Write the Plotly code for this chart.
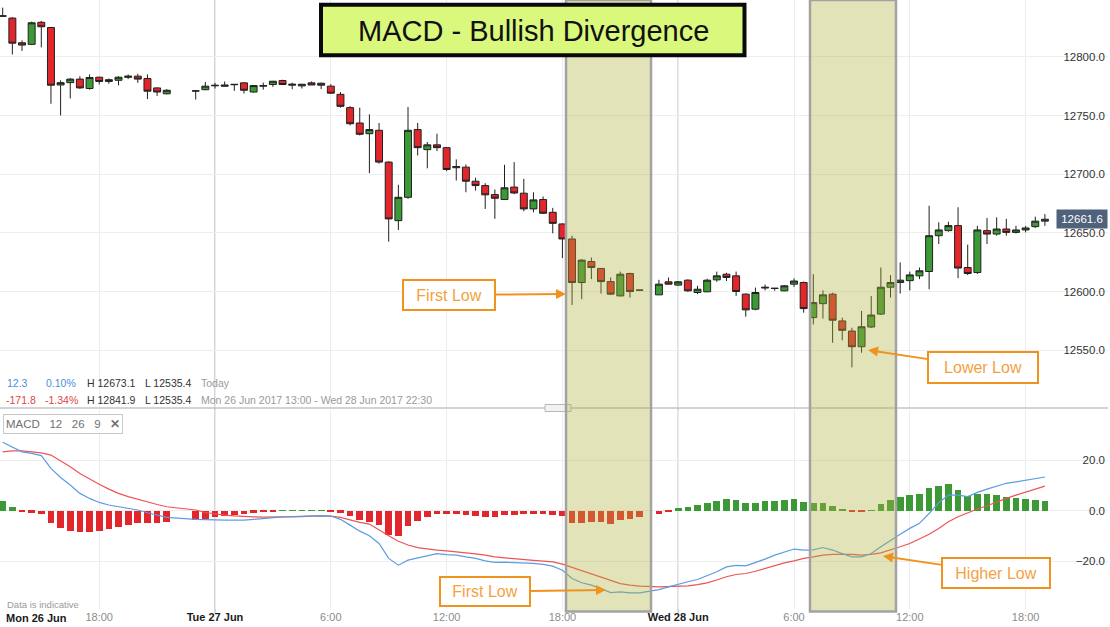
import pandas as pd
import plotly.graph_objs as go

# 30 minute candles, Mon 26 Jun 2017 13:00 -> Wed 28 Jun 2017 19:00 (a few bars missing overnight)
missing = ["2017-06-26 22:00", "2017-06-26 22:30", "2017-06-27 22:30"]
times = pd.date_range("2017-06-26 13:00", "2017-06-28 19:00", freq="30min")
times = times[~times.isin(pd.to_datetime(missing))]

open_ = [12835.0, 12833.0, 12812.0, 12810.6, 12829.4, 12825.0, 12776.0, 12778.0, 12781.0, 12773.0,
         12782.6, 12779.0, 12780.0, 12782.5, 12783.5, 12781.5, 12773.5, 12768.5, 12770.8, 12772.0,
         12775.3, 12776.0, 12776.6, 12777.8, 12770.0, 12775.0, 12776.4, 12779.8, 12775.8, 12775.2,
         12777.8, 12777.5, 12775.0, 12768.0, 12756.7, 12743.6, 12734.5, 12737.4, 12710.3, 12660.4,
         12680.3, 12738.0, 12720.9, 12725.0, 12722.6, 12705.5, 12706.0, 12694.0, 12690.3, 12682.6,
         12678.4, 12689.0, 12683.8, 12670.4, 12678.4, 12667.5, 12657.6, 12644.8, 12607.7, 12625.6,
         12619.7, 12608.5, 12596.3, 12615.4, 12601.2, 12597.2, 12608.3, 12605.5, 12609.7, 12599.2,
         12599.8, 12610.0, 12614.8, 12613.4, 12597.8, 12585.0, 12603.0, 12602.6, 12600.6, 12606.3,
         12607.7, 12577.8, 12589.7, 12597.8, 12575.0, 12566.4, 12553.0, 12569.8, 12580.8, 12603.7,
         12607.7, 12609.3, 12613.4, 12617.1, 12647.6, 12651.9, 12656.2, 12620.5, 12616.2, 12651.9,
         12649.0, 12653.3, 12650.4, 12652.5, 12655.3, 12660.0]
high = [12841.9, 12833.7, 12814.0, 12830.0, 12830.5, 12825.5, 12780.0, 12782.0, 12783.5, 12785.0,
        12783.0, 12781.5, 12783.5, 12785.0, 12785.5, 12785.0, 12774.0, 12772.5, 12771.5, 12778.6,
        12777.8, 12779.0, 12776.8, 12778.5, 12776.0, 12778.0, 12779.5, 12780.5, 12778.0, 12777.0,
        12779.0, 12778.0, 12776.7, 12770.0, 12758.0, 12756.7, 12751.0, 12743.6, 12711.0, 12691.0,
        12757.3, 12743.6, 12727.4, 12734.5, 12723.0, 12712.6, 12708.3, 12697.0, 12692.3, 12687.0,
        12708.0, 12710.3, 12696.0, 12684.6, 12681.0, 12671.3, 12658.0, 12647.6, 12627.5, 12629.0,
        12620.0, 12612.0, 12617.0, 12616.0, 12601.2, 12610.0, 12612.0, 12609.0, 12610.5, 12604.9,
        12611.0, 12617.0, 12616.0, 12617.0, 12598.5, 12603.4, 12606.0, 12602.8, 12605.5, 12611.2,
        12608.5, 12614.8, 12601.0, 12599.0, 12577.8, 12569.2, 12583.5, 12596.3, 12620.5, 12614.0,
        12624.8, 12617.0, 12620.5, 12673.1, 12659.0, 12659.5, 12671.8, 12640.0, 12656.0, 12662.7,
        12663.2, 12661.9, 12656.0, 12656.0, 12663.8, 12666.0]
low = [12834.4, 12802.0, 12805.0, 12810.0, 12808.0, 12760.0, 12750.0, 12764.5, 12772.6, 12772.0,
       12776.4, 12777.0, 12775.8, 12781.0, 12777.8, 12764.0, 12766.7, 12768.0, 12763.6, 12771.5,
       12773.0, 12775.0, 12771.0, 12768.7, 12769.5, 12772.0, 12774.4, 12776.0, 12772.4, 12773.0,
       12776.0, 12772.5, 12768.5, 12756.7, 12741.6, 12733.0, 12700.9, 12709.0, 12642.5, 12652.5,
       12679.0, 12716.0, 12705.0, 12719.7, 12702.6, 12694.6, 12684.6, 12686.0, 12670.4, 12662.0,
       12678.0, 12683.0, 12668.4, 12667.5, 12666.0, 12649.6, 12628.5, 12588.6, 12593.5, 12610.6,
       12598.3, 12597.0, 12596.0, 12594.9, 12601.2, 12597.0, 12606.0, 12605.0, 12599.8, 12597.8,
       12599.5, 12608.3, 12609.0, 12596.3, 12578.6, 12584.0, 12601.0, 12600.7, 12600.3, 12604.0,
       12582.0, 12572.0, 12577.0, 12556.4, 12558.5, 12535.4, 12547.9, 12569.0, 12580.0, 12594.9,
       12598.3, 12601.0, 12610.6, 12602.0, 12640.5, 12651.0, 12611.4, 12614.0, 12615.0, 12640.5,
       12647.6, 12647.6, 12649.5, 12650.4, 12654.2, 12656.0]
close = [12834.6, 12811.6, 12810.0, 12829.0, 12825.6, 12775.8, 12778.0, 12781.0, 12773.5, 12782.4,
         12779.0, 12780.5, 12782.6, 12783.5, 12781.0, 12770.7, 12770.0, 12771.5, 12771.0, 12775.0,
         12775.7, 12775.0, 12776.3, 12771.5, 12775.5, 12775.4, 12779.2, 12776.4, 12776.6, 12776.6,
         12776.0, 12775.8, 12769.0, 12757.8, 12743.0, 12734.0, 12738.0, 12710.3, 12661.9, 12680.3,
         12737.4, 12722.6, 12725.0, 12722.6, 12704.0, 12706.5, 12694.0, 12690.3, 12682.4, 12679.5,
         12688.4, 12684.0, 12670.4, 12678.1, 12666.7, 12658.1, 12644.8, 12607.7, 12626.8, 12620.5,
         12608.5, 12597.8, 12614.8, 12600.0, 12601.2, 12606.3, 12606.3, 12608.3, 12600.6, 12602.0,
         12609.7, 12613.4, 12612.0, 12600.0, 12584.4, 12599.2, 12603.6, 12602.8, 12604.9, 12609.0,
         12585.5, 12590.6, 12597.2, 12575.6, 12567.0, 12553.0, 12570.0, 12580.0, 12603.7, 12607.7,
         12609.7, 12614.2, 12617.7, 12647.6, 12652.5, 12656.2, 12620.0, 12615.4, 12652.5, 12649.0,
         12653.3, 12650.4, 12652.5, 12654.2, 12660.0, 12661.6]

# MACD 12 26 9
macd_line = [27.2, 25.2, 23.4, 22.8, 21.9, 16.8, 13.2, 10.2, 6.9, 4.9,
             3.3, 2.3, 1.6, 0.9, 0.3, -0.8, -1.7, -2.6, -3.4, -3.6,
             -3.6, -3.7, -3.7, -3.7, -3.4, -3.0, -2.6, -2.4, -2.3, -2.1,
             -2.0, -1.9, -2.1, -3.4, -5.7, -8.1, -9.9, -13.0, -18.9, -21.6,
             -19.6, -18.7, -18.0, -17.0, -17.4, -17.6, -18.3, -18.9, -19.9, -20.5,
             -20.4, -20.5, -20.8, -20.9, -21.3, -22.0, -23.6, -26.9, -28.6, -29.5,
             -30.9, -32.5, -32.2, -32.6, -32.6, -31.3, -30.2, -29.1, -28.2, -27.3,
             -25.8, -24.2, -22.3, -21.7, -21.9, -20.7, -19.2, -17.6, -16.3, -15.2,
             -15.6, -15.5, -14.6, -15.6, -17.0, -18.3, -18.3, -17.0, -14.3, -11.7,
             -9.3, -7.0, -5.0, -1.1, 3.2, 6.2, 6.2, 5.6, 7.3, 8.6,
             9.9, 10.9, 11.5, 12.1, 12.6, 13.4]
signal_line = [23.4, 23.8, 23.8, 23.4, 23.0, 22.1, 19.9, 17.5, 14.8, 12.5,
               10.5, 8.6, 6.9, 5.6, 4.5, 3.3, 2.5, 1.6, 0.3, -0.7,
               -1.3, -1.7, -2.0, -2.3, -2.4, -2.5, -2.5, -2.5, -2.4, -2.3,
               -2.1, -2.0, -2.1, -2.6, -3.7, -4.6, -5.3, -7.7, -9.9, -12.1,
               -13.6, -14.6, -15.2, -15.6, -15.9, -16.2, -16.6, -17.1, -17.6, -18.3,
               -18.7, -19.1, -19.5, -19.7, -20.0, -20.3, -21.2, -22.5, -24.0, -25.3,
               -26.6, -27.9, -28.9, -29.5, -29.9, -30.2, -30.1, -30.1, -29.8, -29.3,
               -28.6, -27.5, -26.2, -25.3, -24.9, -24.0, -22.9, -21.9, -20.7, -19.9,
               -18.9, -18.3, -17.6, -17.3, -17.2, -17.3, -17.6, -17.3, -16.7, -15.6,
               -14.3, -13.0, -11.3, -9.3, -7.0, -4.4, -2.4, -0.8, 0.7, 2.0,
               3.6, 4.9, 6.2, 7.4, 8.6, 9.8]
histogram = [4.0, 1.3, -0.6, -0.7, -1.3, -5.0, -7.0, -8.1, -8.6, -8.3,
             -7.9, -7.3, -6.4, -5.7, -5.0, -5.0, -5.0, -4.4, -3.8, -3.2,
             -2.4, -1.9, -1.5, -1.2, -0.7, -0.5, -0.3, 0.3, 0.3, 0.3,
             0.3, 0.3, -0.3, -0.7, -2.0, -3.7, -4.5, -5.7, -9.7, -9.9,
             -6.1, -4.1, -2.4, -1.3, -1.3, -1.3, -1.7, -2.0, -2.4, -2.4,
             -1.7, -1.5, -1.3, -1.3, -1.3, -1.7, -2.1, -4.8, -4.8, -4.6,
             -4.6, -5.3, -3.7, -3.3, -2.4, -1.3, -0.3, 0.9, 1.3, 2.3,
             2.9, 3.8, 4.5, 4.2, 2.9, 3.2, 3.7, 4.0, 4.2, 4.6,
             3.3, 2.9, 3.0, 1.9, 0.5, -0.5, -0.4, 0.3, 2.5, 4.1,
             5.3, 6.2, 6.8, 8.9, 9.9, 10.6, 8.1, 6.0, 6.5, 6.5,
             6.2, 5.6, 4.9, 4.5, 4.2, 3.8]

tick_times = ["2017-06-26 18:00", "2017-06-27 00:00", "2017-06-27 06:00", "2017-06-27 12:00",
              "2017-06-27 18:00", "2017-06-28 00:00", "2017-06-28 06:00", "2017-06-28 12:00",
              "2017-06-28 18:00"]
tick_text = ["18:00", "Tue 27 Jun", "6:00", "12:00", "18:00", "Wed 28 Jun", "6:00", "12:00", "18:00"]
day_ticks = ["Tue 27 Jun", "Wed 28 Jun"]

GREEN = '#3b9a35'
RED = '#e3262b'
ORANGE = '#f0921e'

# plot area is 1108 x 609 px, helpers to place layout items from pixel positions
PW, PH = 1108, 609


def px_x(px):
    return px / PW


def px_y(py):
    return (PH - py) / PH


tick_labels = []
for t in tick_text:
    if t in day_ticks:
        tick_labels.append("<b><span style='color:#1a1a1a'>" + t + "</span></b>")
    else:
        tick_labels.append(t)

bar_colors = [GREEN if v >= 0 else RED for v in histogram]

fig = go.Figure()
fig.add_trace(go.Candlestick(
    x=times, open=open_, high=high, low=low, close=close,
    increasing=dict(line=dict(color='#202020', width=1), fillcolor=GREEN),
    decreasing=dict(line=dict(color='#202020', width=1), fillcolor=RED),
    whiskerwidth=0, xaxis='x', yaxis='y', showlegend=False, hoverinfo='skip'))
fig.add_trace(go.Bar(x=times, y=histogram, marker=dict(color=bar_colors, line=dict(width=0)),
                     width=1250000, xaxis='x', yaxis='y2', showlegend=False))
fig.add_trace(go.Scatter(x=times, y=signal_line, mode='lines', line=dict(color='#ec5457', width=1.2),
                         xaxis='x', yaxis='y2', showlegend=False))
fig.add_trace(go.Scatter(x=times, y=macd_line, mode='lines', line=dict(color='#5a9ee0', width=1.2),
                         xaxis='x', yaxis='y2', showlegend=False))

shapes = []
# day separators
for d in ["2017-06-27 00:00", "2017-06-28 00:00"]:
    shapes.append(dict(type='line', xref='x', yref='paper', x0=d, x1=d, y0=-0.006, y1=1,
                       line=dict(color='#c6c6ce', width=1.5), layer='below'))
# panel separator and its handle
shapes.append(dict(type='line', xref='paper', yref='paper', x0=0, x1=1, y0=px_y(408), y1=px_y(408),
                   line=dict(color='#c4c4c4', width=1.5)))
shapes.append(dict(type='rect', xref='paper', yref='paper', x0=px_x(545), x1=px_x(571),
                   y0=px_y(411.5), y1=px_y(404.5), fillcolor='#f2f2f2', line=dict(color='#b8b8b8', width=1)))
# highlighted zones
for x0, x1 in [(566, 651), (810, 896)]:
    shapes.append(dict(type='rect', xref='paper', yref='paper', x0=px_x(x0), x1=px_x(x1),
                       y0=px_y(611.5), y1=1.0, fillcolor='rgba(178,178,60,0.36)',
                       line=dict(color='#a2a2a2', width=2.5), layer='above'))
# title box
shapes.append(dict(type='rect', xref='paper', yref='paper', x0=px_x(321), x1=px_x(744.5),
                   y0=px_y(55.3), y1=px_y(4.7), fillcolor='#d9f87c', line=dict(color='#0a0a0a', width=4),
                   layer='above'))

ann = []
ann.append(dict(xref='paper', yref='paper', x=px_x(533), y=px_y(31), xanchor='center', yanchor='middle',
                text='MACD - Bullish Divergence', showarrow=False, font=dict(size=29, color='#111111')))

# labels with arrows
callouts = [
    ('First Low', (566, 294), (449, 295), 86, 24),
    ('Lower Low', (868, 350), (983, 367.5), 104, 25),
    ('First Low', (606, 590), (485, 591.5), 84, 23),
    ('Higher Low', (883, 556), (996, 573), 102, 24),
]
for text, head, box, w, h in callouts:
    ann.append(dict(xref='paper', yref='paper', x=px_x(head[0]), y=px_y(head[1]),
                    ax=box[0] - head[0], ay=box[1] - head[1], text=text, showarrow=True,
                    arrowhead=2, arrowsize=1, arrowwidth=2, arrowcolor=ORANGE,
                    font=dict(size=16, color='#f4a23e'), bgcolor='white',
                    bordercolor=ORANGE, borderwidth=2, borderpad=2, width=w, height=h))

# price info rows
info = [
    ('12.3', 5, 383, '#4a90d9'), ('0.10%', 44, 383, '#4a90d9'), ('H 12673.1', 85, 383, '#333333'),
    ('L 12535.4', 143, 383, '#333333'), ('Today', 199, 383, '#9a9a9a'),
    ('-171.8', 4, 400, '#e04545'), ('-1.34%', 43, 400, '#e04545'), ('H 12841.9', 85, 400, '#333333'),
    ('L 12535.4', 143, 400, '#333333'),
    ('Mon 26 Jun 2017 13:00 - Wed 28 Jun 2017 22:30', 199, 400, '#9a9a9a'),
]
for text, x, y, c in info:
    ann.append(dict(xref='paper', yref='paper', x=px_x(x), y=px_y(y), text=text, showarrow=False,
                    xanchor='left', yanchor='middle', font=dict(size=10.5, color=c)))

ann.append(dict(xref='paper', yref='paper', x=px_x(3), y=px_y(424), xanchor='left', yanchor='middle',
                text='MACD\u00a0\u00a0\u00a012\u00a0\u00a0\u00a026\u00a0\u00a0\u00a09\u00a0\u00a0\u00a0<b>✕</b>',
                showarrow=False, font=dict(size=11.5, color='#707070'), bgcolor='white',
                bordercolor='#c8c8c8', borderwidth=1, borderpad=2, width=114, height=14, align='left'))
ann.append(dict(xref='paper', yref='paper', x=px_x(5), y=px_y(604), xanchor='left', yanchor='middle',
                text='Data is indicative', showarrow=False, font=dict(size=9.5, color='#9a9a9a')))
ann.append(dict(xref='paper', yref='paper', x=px_x(4), y=px_y(618), xanchor='left', yanchor='middle',
                text='<b>Mon 26 Jun</b>', showarrow=False, font=dict(size=11, color='#1a1a1a')))
ann.append(dict(xref='paper', yref='y', x=1, y=close[-1], xanchor='right', yanchor='middle',
                text='12661.6', showarrow=False, font=dict(size=11.5, color='white'),
                bgcolor='#50617c', borderpad=2, width=46, height=14))

fig.update_layout(
    width=1110, height=627,
    margin=dict(l=0, r=2, t=0, b=18),
    paper_bgcolor='white', plot_bgcolor='white',
    showlegend=False,
    boxgap=0.28, boxgroupgap=0, bargap=0,
    font=dict(family='Liberation Sans, Arial, sans-serif', color='#333333'),
    xaxis=dict(type='date', anchor='y2',
               range=['2017-06-26 12:51:36', '2017-06-28 22:16:08'],
               rangeslider=dict(visible=False),
               tickvals=tick_times, ticktext=tick_labels, ticks='',
               tickfont=dict(size=11, color='#8c8c8c'),
               showgrid=True, gridcolor='#ececf0', gridwidth=1,
               zeroline=False, showline=False),
    yaxis=dict(domain=[px_y(408), 1], range=[12500.8, 12848.4], side='right',
               ticklabelposition='inside', dtick=50, tickformat='.1f', ticks='',
               tickfont=dict(size=11.5, color='#333333'),
               showgrid=True, gridcolor='#eeeeee', zeroline=False, showline=False),
    yaxis2=dict(domain=[0, px_y(410)], range=[-39.0, 40.0], side='right',
                ticklabelposition='inside', tickvals=[-20, 0, 20], tickformat='.1f', ticks='',
                tickfont=dict(size=11.5, color='#333333'),
                showgrid=True, gridcolor='#eeeeee', zeroline=False, showline=False),
    shapes=shapes,
    annotations=ann,
)

# the page body has a default 8px margin, drop it so the figure fills the window
fig.write_html("out.html", config={'displayModeBar': False},
               post_script="document.body.style.margin='0px';")
